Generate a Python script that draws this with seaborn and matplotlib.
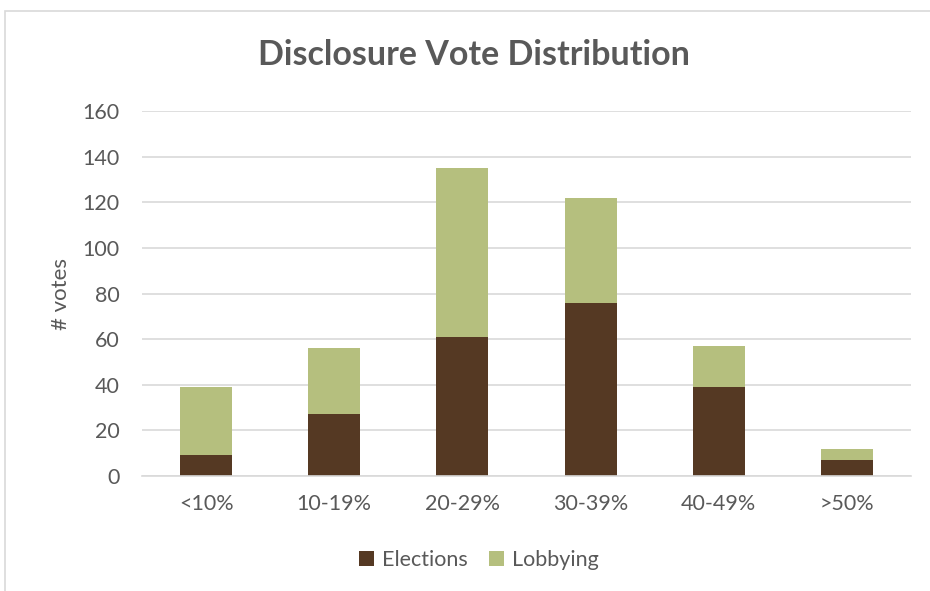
import matplotlib
matplotlib.use("Agg")
import matplotlib.pyplot as plt
import seaborn as sns
import pandas as pd
from matplotlib.patches import Rectangle

# Chart data
categories = ["<10%", "10-19%", "20-29%", "30-39%", "40-49%", ">50%"]
elections = [9, 27, 61, 76, 39, 7]
lobbying = [30, 29, 74, 46, 18, 5]

df = pd.DataFrame({"bucket": categories, "Elections": elections, "Lobbying": lobbying})

sns.set_theme(style="white")
plt.rcParams["font.family"] = ["Lato", "DejaVu Sans"]

text_gray = "#595959"
grid_gray = "#d9d9d9"
brown = "#553923"
green = "#b5bf7e"

fig = plt.figure(figsize=(9.3, 5.91), dpi=100)
ax = fig.add_axes([142 / 930, 1 - 476 / 591, 769 / 930, 365 / 591])

sns.barplot(data=df, x="bucket", y="Elections", color=brown, width=0.405,
            saturation=1, ax=ax, label="Elections", edgecolor="none")
sns.barplot(data=df, x="bucket", y="Lobbying", color=green, width=0.405,
            saturation=1, ax=ax, label="Lobbying", bottom=df["Elections"],
            edgecolor="none")

ax.set_ylim(0, 160)
ax.set_yticks(range(0, 161, 20))
ax.yaxis.grid(True, color=grid_gray, linewidth=1.2)
ax.set_axisbelow(True)
for side in ["top", "right", "left"]:
    ax.spines[side].set_visible(False)
ax.spines["bottom"].set_color(grid_gray)
ax.spines["bottom"].set_linewidth(1.2)
ax.tick_params(axis="both", length=0, labelsize=15.5, colors=text_gray)
ax.tick_params(axis="y", pad=16)
ax.tick_params(axis="x", pad=13)
ax.set_xlabel("")
ax.set_ylabel("# votes", fontsize=16, color=text_gray, labelpad=8)

fig.text(474 / 930, 1 - 55 / 591, "Disclosure Vote Distribution", ha="center", va="center",
         fontsize=24.5, fontweight="bold", color=text_gray)

ax.legend(loc="center", bbox_to_anchor=(479 / 930, 1 - 560 / 591), bbox_transform=fig.transFigure,
          ncol=2, frameon=False, fontsize=15.5, handlelength=0.7, handleheight=0.7,
          columnspacing=1.0, handletextpad=0.35, labelcolor=text_gray)

# outer chart border (partially visible)
fig.patches.append(Rectangle((5 / 930, -0.1), 1.2, 1 - 11 / 591 + 0.1,
                             transform=fig.transFigure, fill=False,
                             edgecolor=grid_gray, linewidth=1.2))

fig.savefig("out.png", dpi=100)
